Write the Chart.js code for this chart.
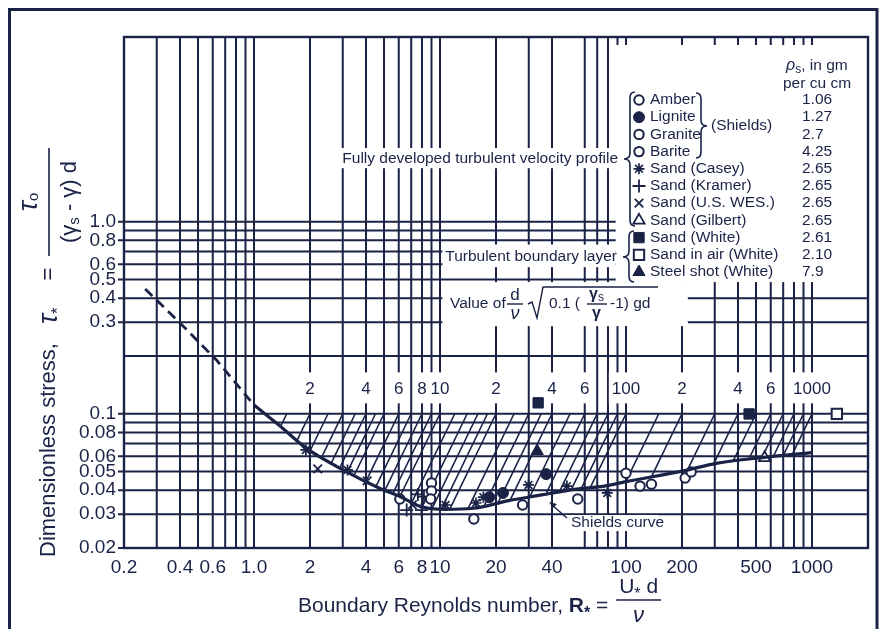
<!DOCTYPE html>
<html>
<head>
<meta charset="utf-8">
<title>Shields diagram</title>
<script src="https://cdn.jsdelivr.net/npm/chart.js@4.4.1/dist/chart.umd.min.js"></script>
<style>
  html, body { margin: 0; padding: 0; background: #ffffff; }
  canvas { display: block; }
</style>
</head>
<body>
<canvas id="chart" width="886" height="629"></canvas>
<script>
const INK = '#1a2246';
const FONT = '"Liberation Sans", Arial, Helvetica, sans-serif';

// ---------- axes ----------
const xMin = 0.2, xMax = 2000, yMin = 0.02, yMax = 9.16;
const xGridValues = [0.2,0.3,0.4,0.5,0.6,0.7,0.8,0.9,1,2,3,4,5,6,7,8,9,10,20,30,40,60,70,80,90,100,200,300,400,500,600,700,800,900,1000];
const xTickValues = [0.2,0.4,0.6,1,2,4,6,8,10,20,40,100,200,500,1000];
const xTickLabels = ['0.2','0.4','0.6','1.0','2','4','6','8','10','20','40','100','200','500','1000'];
const yGridValues = [0.03,0.04,0.05,0.06,0.07,0.08,0.09,0.1,0.2,0.3,0.4,0.5,0.6,0.7,0.8,0.9,1.0];
const yTickValues = [0.02,0.03,0.04,0.05,0.06,0.08,0.1,0.3,0.4,0.5,0.6,0.8,1.0];
const yTickLabels = ['0.02','0.03','0.04','0.05','0.06','0.08','0.1','0.3','0.4','0.5','0.6','0.8','1.0'];

// ---------- parameter  d/nu * sqrt(0.1 (gs/g - 1) g d) ----------
const paramLineValues = [1.5,2,2.5,3,3.5,4,4.5,5,6,7,8,9,10,12,14,16,18,20,25,30,35,40,50,60,70,80,90,100,150,200,300,400,500,600,700,800,900,1000];
const paramLabelValues = [2,4,6,8,10,20,40,60,100,200,400,600,1000];
const paramLabels = ['2','4','6','8','10','2','4','6','100','2','4','6','1000'];
const PARAM_LABEL_TAU = 0.134;

// ---------- Shields curve ----------
const shieldsDashedR   = [0.26, 0.41, 0.63, 1.0];
const shieldsDashedTau = [0.447, 0.29, 0.19, 0.111];
const shieldsR   = [1.0, 1.36, 1.9, 3.13, 4.7, 6.12, 7.95, 10.6, 15.1, 23.4, 35.3, 52.6, 76.4, 100, 207, 305, 554, 1000];
const shieldsTau = [0.111, 0.0874, 0.0664, 0.050, 0.0411, 0.037, 0.0328, 0.0318, 0.0322, 0.0353, 0.0378, 0.0404, 0.042, 0.0443, 0.0506, 0.0552, 0.0593, 0.0627];

// ---------- experimental points ----------
const openCircleR   = [6.08, 9.0, 9.0, 8.9, 15.2, 27.8, 55, 100, 119, 137, 208, 224];      // Amber / Granite / Barite (Shields)
const openCircleTau = [0.036, 0.0436, 0.0396, 0.036, 0.0283, 0.0335, 0.036, 0.049, 0.042, 0.043, 0.0463, 0.0498];
const ligniteR   = [18.4, 21.8, 37.2];
const ligniteTau = [0.0368, 0.0387, 0.0485];
const caseyR   = [1.9, 3.18, 10.7, 15.6, 17.1, 29.9, 48.1, 79.3];
const caseyTau = [0.0648, 0.051, 0.0335, 0.0343, 0.0368, 0.0426, 0.042, 0.0387];
const kramerR   = [6.62, 7.95, 7.6, 8.2];
const kramerTau = [0.0315, 0.0315, 0.038, 0.037];
const wesR   = [2.2, 4.06, 7.1];
const wesTau = [0.0516, 0.0447, 0.0335];
const gilbertR = [556];   const gilbertTau = [0.0589];
const whiteSandR = [33.7, 459];   const whiteSandTau = [0.114, 0.0998];
const airSandR = [1360];  const airSandTau = [0.0998];
const steelShotR = [33.3]; const steelShotTau = [0.064];

// ---------- legend ----------
const legendNames = ['Amber','Lignite','Granite','Barite','Sand (Casey)','Sand (Kramer)','Sand (U.S. WES.)','Sand (Gilbert)','Sand (White)','Sand in air (White)','Steel shot (White)'];
const legendDensities = ['1.06','1.27','2.7','4.25','2.65','2.65','2.65','2.65','2.61','2.10','7.9'];
const legendDataset = [2,3,2,2,4,5,6,7,8,9,10];

// white panels behind captions: [xFrom, xTo, tauFrom, tauTo]
const BLANKS = [
  [88, 2000, 0.485, 9.16],
  [2.9, 88, 1.9, 2.42],
  [10.3, 88, 0.58, 0.76],
  [10.3, 215, 0.286, 0.485],
  [47, 150, 0.0245, 0.0297]
];

const pts = (xs, ys) => xs.map((v, i) => ({ x: v, y: ys[i] }));
function series(label, xs, ys, style) {
  return Object.assign({ label, data: pts(xs, ys), showLine: false, pointHoverRadius: 0 }, style);
}

// log-log interpolation along the whole curve (for hatch end points)
const curveAllR = shieldsDashedR.slice(0, -1).concat(shieldsR);
const curveAllT = shieldsDashedTau.slice(0, -1).concat(shieldsTau);
function curveTauAt(R) {
  const lr = Math.log10(R);
  const n = curveAllR.length;
  let i = 0;
  while (i < n - 2 && Math.log10(curveAllR[i + 1]) < lr) i++;
  const x0 = Math.log10(curveAllR[i]), x1 = Math.log10(curveAllR[i + 1]);
  const y0 = Math.log10(curveAllT[i]), y1 = Math.log10(curveAllT[i + 1]);
  return Math.pow(10, y0 + (y1 - y0) * (lr - x0) / (x1 - x0));
}

function runs(ctx, list, u0, v0, draw) {
  let u = u0;
  for (const r of list) {
    ctx.font = r[1];
    if (draw) ctx.fillText(r[0], u, v0 + (r[2] || 0));
    u += ctx.measureText(r[0]).width;
  }
  return u - u0;
}

function brace(ctx, x, yTop, yBot, yTip, dir) {
  const endX = x - dir * 5, tipX = x + dir * 6;
  ctx.beginPath();
  ctx.moveTo(endX, yTop);
  ctx.quadraticCurveTo(x, yTop, x, yTop + 6);
  ctx.lineTo(x, yTip - 6);
  ctx.quadraticCurveTo(x, yTip, tipX, yTip);
  ctx.quadraticCurveTo(x, yTip, x, yTip + 6);
  ctx.lineTo(x, yBot - 6);
  ctx.quadraticCurveTo(x, yBot, endX, yBot);
  ctx.stroke();
}

const diagramPlugin = {
  id: 'shieldsDiagram',
  beforeDatasetsDraw(chart) {
    const { ctx, chartArea: a, scales } = chart;
    const X = v => scales.x.getPixelForValue(v);
    const Y = v => scales.y.getPixelForValue(v);
    ctx.save();
    ctx.strokeStyle = INK;
    ctx.lineWidth = 2;
    ctx.beginPath();
    for (const v of xGridValues) { const p = X(v); ctx.moveTo(p, a.top); ctx.lineTo(p, a.bottom); }
    for (const v of yGridValues) { const p = Y(v); ctx.moveTo(a.left, p); ctx.lineTo(a.right, p); }
    for (const v of yTickValues) { const p = Y(v); ctx.moveTo(a.left - 6, p); ctx.lineTo(a.left, p); }
    ctx.stroke();

    ctx.fillStyle = '#ffffff';
    for (const b of BLANKS) {
      const x0 = X(b[0]), x1 = X(b[1]), y0 = Y(b[3]), y1 = Y(b[2]);
      ctx.fillRect(x0, y0, x1 - x0, y1 - y0);
    }

    // top ticks inside the legend panel
    ctx.beginPath();
    for (const v of xGridValues) if (v > BLANKS[0][0]) { const p = X(v); ctx.moveTo(p, a.top); ctx.lineTo(p, a.top + 8); }
    ctx.stroke();

    // parameter scale labels
    ctx.font = '17px ' + FONT; ctx.textAlign = 'center'; ctx.textBaseline = 'middle';
    const ly = Y(PARAM_LABEL_TAU);
    paramLabelValues.forEach((v, i) => {
      const px = X(v), w = ctx.measureText(paramLabels[i]).width;
      ctx.fillStyle = '#ffffff'; ctx.fillRect(px - w / 2 - 3, ly - 17, w + 6, 31);
      ctx.fillStyle = INK; ctx.fillText(paramLabels[i], px, ly);
    });

    // hatching: lines of constant parameter, slope 2 in log-log, from tau = 0.1 down to the curve
    ctx.lineWidth = 1.6;
    ctx.beginPath();
    for (const P of paramLineValues) {
      if (!(curveTauAt(P) < 0.1)) continue;
      const lp = Math.log10(P);
      const f = r => (-1 + 2 * (r - lp)) - Math.log10(curveTauAt(Math.pow(10, r)));
      let lo = lp - 0.8, hi = lp;
      for (let k = 0; k < 40; k++) { const m = (lo + hi) / 2; if (f(m) > 0) hi = m; else lo = m; }
      const Rb = Math.pow(10, hi), tb = 0.1 * Math.pow(Rb / P, 2);
      ctx.moveTo(X(P), Y(0.1));
      ctx.lineTo(X(Rb), Y(tb));
    }
    ctx.stroke();

    ctx.lineWidth = 2.4;
    ctx.strokeRect(a.left, a.top, a.right - a.left, a.bottom - a.top);
    ctx.restore();
  },
  afterDraw(chart) {
    const { ctx } = chart;
    ctx.save();
    ctx.fillStyle = INK; ctx.strokeStyle = INK;

    // outer border of the figure
    ctx.lineWidth = 3;
    ctx.beginPath(); ctx.moveTo(9.5, 629); ctx.lineTo(9.5, 9.5); ctx.lineTo(877, 9.5); ctx.lineTo(877, 629); ctx.stroke();

    // ---- legend ----
    ctx.textAlign = 'left'; ctx.textBaseline = 'middle';
    const f15 = '15.5px ' + FONT;
    runs(ctx, [['ρ', 'italic 16px ' + FONT], ['s', '12px ' + FONT, 4], [', in gm', f15]], 786, 66, true);
    runs(ctx, [['per cu cm', f15]], 783, 84, true);
    const y0 = 100, dy = 17.2;
    legendNames.forEach((name, i) => {
      const yy = y0 + i * dy;
      const ds = chart.data.datasets[legendDataset[i]];
      ctx.save();
      ctx.fillStyle = ds.pointBackgroundColor; ctx.strokeStyle = ds.pointBorderColor; ctx.lineWidth = ds.pointBorderWidth;
      Chart.helpers.drawPoint(ctx, { pointStyle: ds.pointStyle, radius: ds.pointRadius, borderWidth: ds.pointBorderWidth, rotation: 0 }, 639, yy);
      ctx.restore();
      ctx.font = f15; ctx.fillStyle = INK;
      ctx.fillText(name, 650, yy);
      ctx.fillText(legendDensities[i], 802, yy);
    });
    ctx.lineWidth = 1.6;
    brace(ctx, 701, 93, 158, 126, 1);
    ctx.font = f15; ctx.fillText('(Shields)', 711, 126);
    brace(ctx, 630, 92, 226, 159, -1);
    ctx.textAlign = 'right';
    ctx.fillText('Fully developed turbulent velocity profile', 618, 159);
    brace(ctx, 629, 231, 282, 257, -1);
    ctx.fillText('Turbulent boundary layer', 617, 257);

    // ---- parameter formula ----
    ctx.textAlign = 'left';
    ctx.fillText('Value of', 450, 304);
    ctx.textAlign = 'center';
    ctx.font = '17px ' + FONT; ctx.fillText('d', 515, 295);
    ctx.font = 'italic 18px ' + FONT; ctx.fillText('ν', 515, 314);
    ctx.lineWidth = 1.4;
    ctx.beginPath(); ctx.moveTo(507, 304); ctx.lineTo(523, 304); ctx.stroke();
    ctx.beginPath(); ctx.moveTo(528, 304); ctx.lineTo(532, 302); ctx.lineTo(537, 318); ctx.lineTo(543, 287); ctx.lineTo(658, 287); ctx.stroke();
    ctx.textAlign = 'left';
    ctx.font = f15; ctx.fillText('0.1 (', 549, 304);
    runs(ctx, [['γ', 'bold 16px ' + FONT], ['s', '12px ' + FONT, 3]], 589, 295, true);
    runs(ctx, [['γ', 'bold 16px ' + FONT]], 592, 314, true);
    ctx.beginPath(); ctx.moveTo(587, 304); ctx.lineTo(607, 304); ctx.stroke();
    ctx.font = f15; ctx.fillText('-1) gd', 610, 304);

    // ---- "Shields curve" caption with arrow ----
    ctx.fillText('Shields curve', 571, 523);
    ctx.lineWidth = 1.4;
    ctx.beginPath(); ctx.moveTo(567, 518); ctx.lineTo(552, 505); ctx.stroke();
    ctx.beginPath(); ctx.moveTo(549, 502); ctx.lineTo(557, 504); ctx.lineTo(553, 508); ctx.closePath(); ctx.fill();

    // ---- x-axis title ----
    ctx.textAlign = 'left'; ctx.textBaseline = 'alphabetic';
    const f21 = '21px ' + FONT;
    let w = runs(ctx, [['Boundary Reynolds number, ', f21], ['R', 'bold 21px ' + FONT], ['*', 'bold 16px ' + FONT, 6], [' = ', f21]], 298, 612, true);
    const fx = 298 + w + 2;
    const numList = [['U', f21], ['*', '16px ' + FONT, 6], [' d', f21]];
    const wn = runs(ctx, numList, 0, 0, false);
    const bar = wn + 6;
    runs(ctx, numList, fx + (bar - wn) / 2, 593, true);
    ctx.lineWidth = 1.5;
    ctx.beginPath(); ctx.moveTo(fx, 600); ctx.lineTo(fx + bar, 600); ctx.stroke();
    ctx.textAlign = 'center'; ctx.font = 'italic 22px ' + FONT; ctx.fillText('ν', fx + bar / 2, 622);

    // ---- y-axis title (rotated) ----
    ctx.save();
    ctx.translate(49, 557);
    ctx.rotate(-Math.PI / 2);
    ctx.textAlign = 'left'; ctx.textBaseline = 'middle';
    runs(ctx, [['Dimensionless stress,', '22px ' + FONT]], 0, 0, true);
    runs(ctx, [['τ', 'italic 27px ' + FONT], ['*', '17px ' + FONT, 9]], 233, 0, true);
    ctx.textAlign = 'center'; ctx.font = '22px ' + FONT; ctx.fillText('=', 283, 0);
    ctx.textAlign = 'left';
    const fu = 301, bl = 108;
    const denList = [['(γ', '22px ' + FONT], ['s', '15px ' + FONT, 5], [' - γ) d', '22px ' + FONT]];
    const nList = [['τ', 'italic 27px ' + FONT], ['o', '15px ' + FONT, 5]];
    const wd = runs(ctx, denList, 0, 0, false), wnum = runs(ctx, nList, 0, 0, false);
    runs(ctx, denList, fu + (bl - wd) / 2, 21, true);
    runs(ctx, nList, fu + (bl - wnum) / 2, -20, true);
    ctx.lineWidth = 1.6;
    ctx.beginPath(); ctx.moveTo(fu, 0); ctx.lineTo(fu + bl, 0); ctx.stroke();
    ctx.restore();

    ctx.restore();
  }
};

const openStyle = { pointStyle: 'circle', pointRadius: 4.7, pointBackgroundColor: '#ffffff', pointBorderColor: INK, pointBorderWidth: 2 };

new Chart(document.getElementById('chart'), {
  type: 'scatter',
  data: {
    datasets: [
      { label: 'Shields curve (extended)', data: pts(shieldsDashedR, shieldsDashedTau), showLine: true, borderColor: INK, borderWidth: 2.8, borderDash: [10, 6], pointRadius: 0 },
      { label: 'Shields curve', data: pts(shieldsR, shieldsTau), showLine: true, borderColor: INK, borderWidth: 3.2, pointRadius: 0, cubicInterpolationMode: 'monotone' },
      series('Amber / Granite / Barite (Shields)', openCircleR, openCircleTau, openStyle),
      series('Lignite (Shields)', ligniteR, ligniteTau, { pointStyle: 'circle', pointRadius: 5.5, pointBackgroundColor: INK, pointBorderColor: INK, pointBorderWidth: 1 }),
      series('Sand (Casey)', caseyR, caseyTau, { pointStyle: 'star', pointRadius: 5.5, pointBackgroundColor: INK, pointBorderColor: INK, pointBorderWidth: 1.7 }),
      series('Sand (Kramer)', kramerR, kramerTau, { pointStyle: 'cross', pointRadius: 6.5, pointBackgroundColor: INK, pointBorderColor: INK, pointBorderWidth: 1.8 }),
      series('Sand (U.S. WES.)', wesR, wesTau, { pointStyle: 'crossRot', pointRadius: 6, pointBackgroundColor: INK, pointBorderColor: INK, pointBorderWidth: 1.8 }),
      series('Sand (Gilbert)', gilbertR, gilbertTau, { pointStyle: 'triangle', pointRadius: 6.5, pointBackgroundColor: '#ffffff', pointBorderColor: INK, pointBorderWidth: 1.8 }),
      series('Sand (White)', whiteSandR, whiteSandTau, { pointStyle: 'rect', pointRadius: 7.3, pointBackgroundColor: INK, pointBorderColor: INK, pointBorderWidth: 1 }),
      series('Sand in air (White)', airSandR, airSandTau, { pointStyle: 'rect', pointRadius: 7.3, pointBackgroundColor: '#ffffff', pointBorderColor: INK, pointBorderWidth: 2 }),
      series('Steel shot (White)', steelShotR, steelShotTau, { pointStyle: 'triangle', pointRadius: 7, pointBackgroundColor: INK, pointBorderColor: INK, pointBorderWidth: 1 })
    ]
  },
  options: {
    responsive: false,
    animation: false,
    devicePixelRatio: 1,
    layout: { padding: { left: 0, right: 18, top: 37, bottom: 0 } },
    plugins: { legend: { display: false }, tooltip: { enabled: false }, title: { display: false } },
    events: [],
    scales: {
      x: {
        type: 'logarithmic', min: xMin, max: xMax,
        grid: { display: false, drawTicks: false }, border: { display: false },
        afterBuildTicks: s => { s.ticks = xTickValues.map(v => ({ value: v })); },
        afterFit: s => { s.height = 81; },
        ticks: { autoSkip: false, maxRotation: 0, minRotation: 0, padding: 8, color: INK, font: { family: FONT, size: 19 },
                 callback: (v, i) => xTickLabels[i] }
      },
      y: {
        type: 'logarithmic', min: yMin, max: yMax,
        grid: { display: false, drawTicks: false }, border: { display: false },
        afterBuildTicks: s => { s.ticks = yTickValues.map(v => ({ value: v })); },
        afterFit: s => { s.width = 124; },
        ticks: { autoSkip: false, padding: 8, color: INK, font: { family: FONT, size: 19 },
                 callback: (v, i) => yTickLabels[i] }
      }
    }
  },
  plugins: [diagramPlugin]
});
</script>
</body>
</html>
